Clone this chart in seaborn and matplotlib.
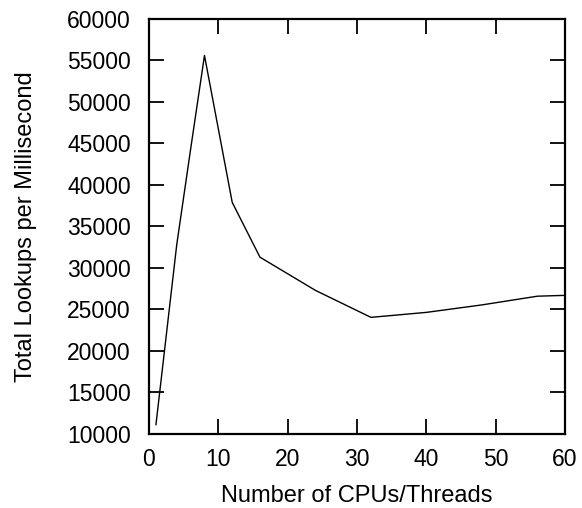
import pandas as pd
import seaborn as sns
import matplotlib.pyplot as plt

# values
cpus = [1, 4, 6, 8, 12, 16, 24, 32, 40, 48, 56, 60]
lookups = [11100, 32800, 44300, 55600, 37900, 31300, 27300, 24050, 24650, 25550, 26600, 26700]

df = pd.DataFrame({'cpus': cpus, 'lookups': lookups})

sns.set_style('ticks')
plt.rcParams['font.family'] = ['Liberation Sans', 'DejaVu Sans']
plt.rcParams['text.color'] = 'black'
plt.rcParams['axes.labelcolor'] = 'black'

fig = plt.figure(figsize=(5.82, 5.08), dpi=100)
ax = fig.add_axes([0.256, 0.1457, 0.715, 0.817])

sns.lineplot(data=df, x='cpus', y='lookups', color='black', linewidth=1.0, ax=ax)

ax.set_xlim(0, 60)
ax.set_ylim(10000, 60000)
ax.set_xticks(range(0, 61, 10))
ax.set_yticks(range(10000, 60001, 5000))
ax.tick_params(direction='in', length=11, width=1.3, labelsize=16.5,
               top=True, right=True, colors='black')
ax.tick_params(axis='x', pad=10)
ax.tick_params(axis='y', pad=13)
for s in ax.spines.values():
    s.set_linewidth(1.6)
    s.set_color('black')

ax.set_xlabel('Number of CPUs/Threads', fontsize=17, labelpad=10)
ax.set_ylabel('Total Lookups per Millisecond', fontsize=17, labelpad=22)

fig.savefig('out.png', dpi=100)
